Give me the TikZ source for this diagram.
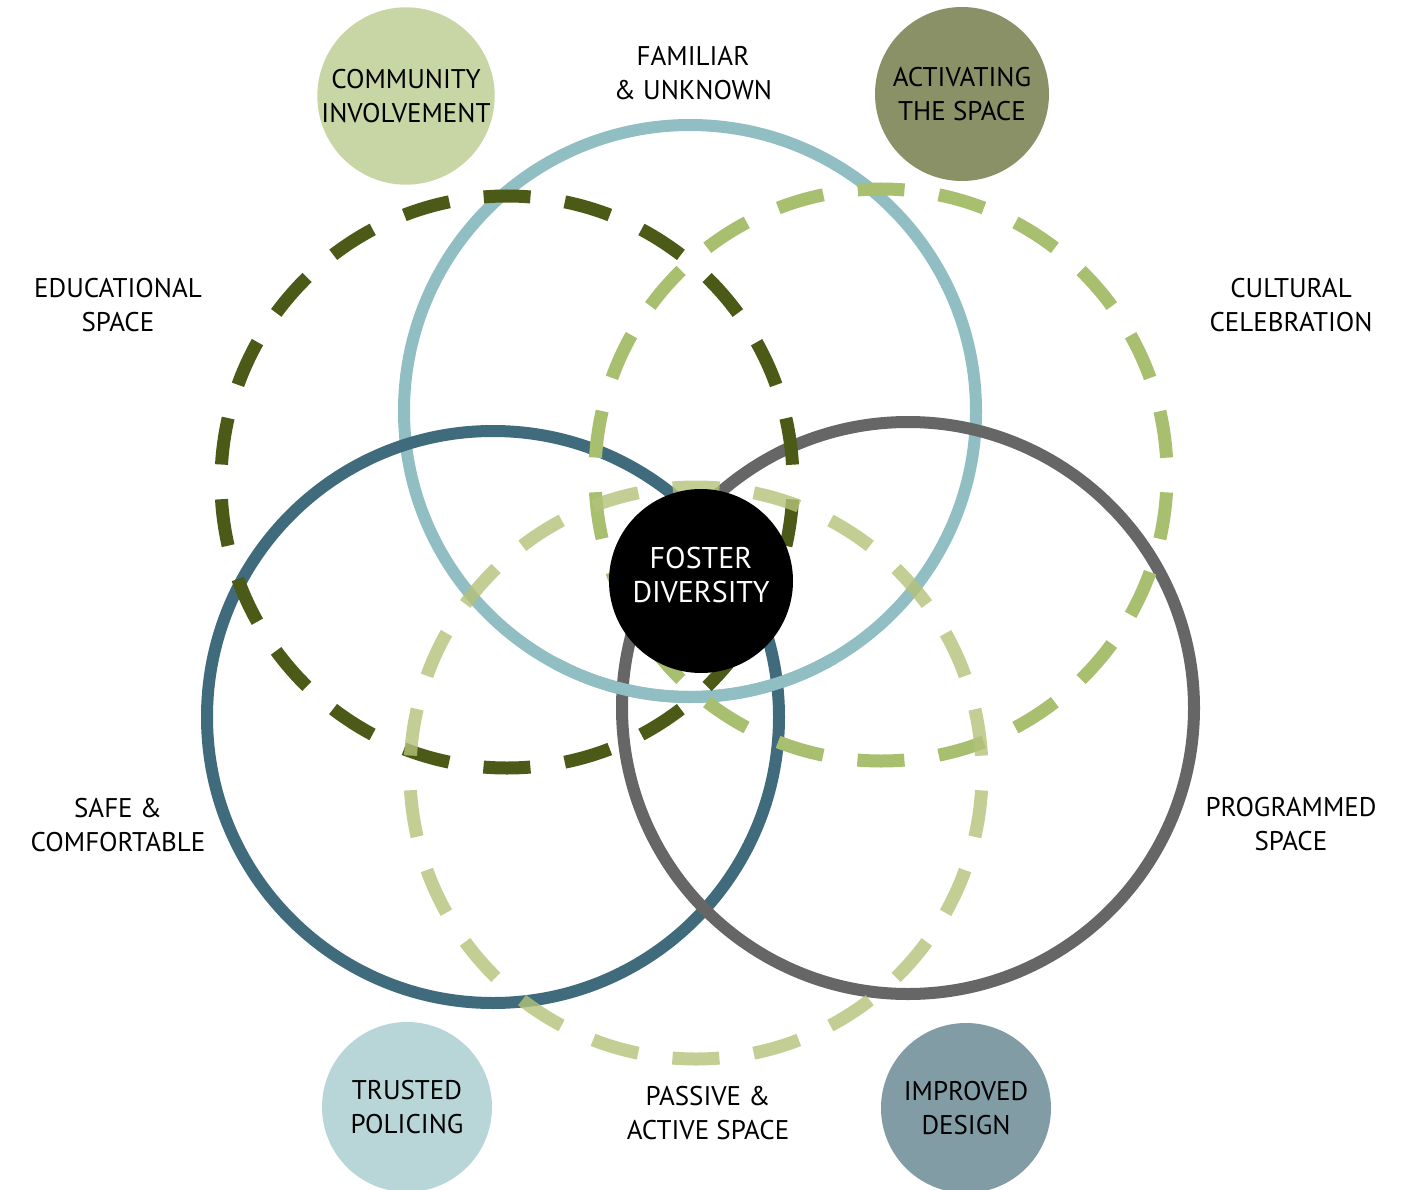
\documentclass[tikz,border=0pt]{standalone}
\usepackage{fontspec}
\setmainfont{PT Sans}
\usetikzlibrary{positioning}
\definecolor{famblue}{HTML}{91BEC3}
\definecolor{safeblue}{HTML}{3F6B7C}
\definecolor{proggray}{HTML}{666666}
\definecolor{edugreen}{HTML}{4B5A16}
\definecolor{cultgreen}{HTML}{A8BF70}
\definecolor{pasgreen}{HTML}{B4C279}
\definecolor{commfill}{HTML}{C8D5A5}
\definecolor{actfill}{HTML}{8A9167}
\definecolor{trustfill}{HTML}{B8D5D7}
\definecolor{designfill}{HTML}{819CA5}

\begin{document}
\begin{tikzpicture}[
    x=1pt,y=-1pt,
    ring/.style={line width=12pt},
    dashring/.style={line width=13pt,dash pattern=on 47pt off 34.7pt,dash phase=23.5pt},
    lbl/.style={align=center,font=\fontsize{27}{34}\selectfont,text=black},
    topic/.style={circle,minimum size=174pt,inner sep=0pt,align=center,font=\fontsize{27}{34}\selectfont}]
    \useasboundingbox (0,0) rectangle (1424,1190);

    % centres of the six rings
    \coordinate (Cfam)  at (690,411);
    \coordinate (Cedu)  at (507,482);
    \coordinate (Ccult) at (881,475);
    \coordinate (Csafe) at (493,717);
    \coordinate (Cprog) at (908,708);
    \coordinate (Cpas)  at (696,773);

    \draw[ring,famblue] (Cfam) circle[radius=286];
    \draw[ring,safeblue] (Csafe) circle[radius=286];
    \draw[ring,proggray] (Cprog) circle[radius=286];
    % lower part of the light blue ring lies on top
    \draw[ring,famblue] (Cfam) ++(60:286) arc[start angle=60,end angle=118,radius=286];

    \draw[dashring,edugreen] (Cedu) ++(270:286) arc[start angle=270,end angle=630,radius=286];
    \draw[dashring,cultgreen] (Ccult) ++(270:286) arc[start angle=270,end angle=630,radius=286];
    \draw[dashring,pasgreen,opacity=0.8] (Cpas) ++(270:286) arc[start angle=270,end angle=630,radius=286];

    \node[topic,fill=commfill] (comm) at (406,96) {COMMUNITY\\INVOLVEMENT};
    \node[topic,fill=actfill] (act) at (962,94) {ACTIVATING\\THE SPACE};
    \node[topic,fill=trustfill,minimum size=170pt] (trust) at (407,1107) {TRUSTED\\POLICING};
    \node[topic,fill=designfill,minimum size=170pt] (design) at (966,1108) {IMPROVED\\DESIGN};
    \node[topic,fill=black,minimum size=184pt,
        label={[align=center,text=white,yshift=6pt,font=\fontsize{30}{34}\selectfont]center:FOSTER\\DIVERSITY}] (foster) at (701,581) {};

    \node[lbl] (fam)  at (693,73)   {FAMILIAR\\\& UNKNOWN};
    \node[lbl] (edu)  at (118,305)  {EDUCATIONAL\\SPACE};
    \node[lbl] (cult) at (1291,305) {CULTURAL\\CELEBRATION};
    \node[lbl] (safe) at (118,825)  {SAFE \&\\COMFORTABLE};
    \node[lbl] (prog) at (1291,824) {PROGRAMMED\\SPACE};
    \node[lbl] (pas)  at (708,1113) {PASSIVE \&\\ACTIVE SPACE};
\end{tikzpicture}
\end{document}
